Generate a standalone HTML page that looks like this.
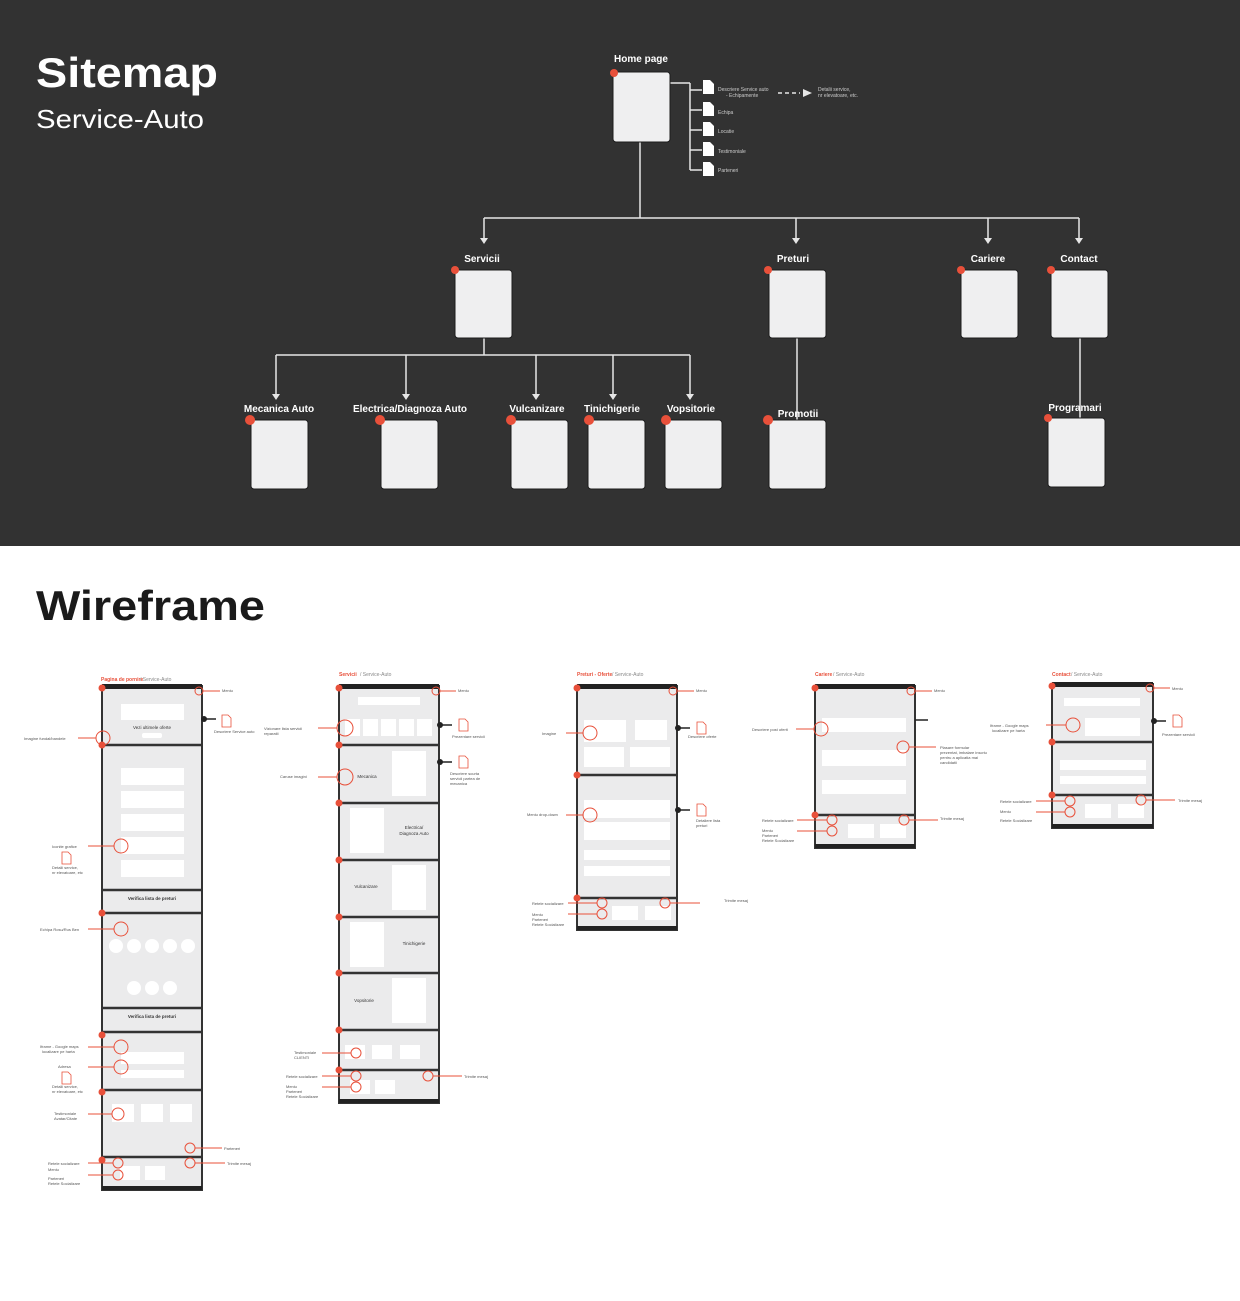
<!DOCTYPE html>
<html><head><meta charset="utf-8"><style>
html,body{margin:0;padding:0;background:#fff}
svg{display:block}
text{font-family:"Liberation Sans",sans-serif}
</style></head><body>
<svg width="1240" height="1301" viewBox="0 0 1240 1301" xmlns="http://www.w3.org/2000/svg">
<rect x="0" y="0" width="1240" height="546" fill="#323232"/>
<text x="36" y="87" font-size="42" font-weight="bold" fill="#fff" textLength="182" lengthAdjust="spacingAndGlyphs">Sitemap</text>
<text x="36" y="128" font-size="26" fill="#fff" textLength="168" lengthAdjust="spacingAndGlyphs">Service-Auto</text>

<g stroke="#e6e6e6" stroke-width="1.5" fill="none">
<path d="M640 142V218M484 218H1079M484 218V240M796 218V240M988 218V240M1079 218V240"/>
<path d="M484 338V355M276 355H690M276 355V396M406 355V396M536 355V396M613 355V396M690 355V396"/>
<path d="M797 338V420M1080 338V418"/>
<path d="M670 83H690M690 83V170M690 90H702M690 110H702M690 130H702M690 150H702M690 170H702"/>
<path d="M778 93H800" stroke-dasharray="4,3"/>
</g>
<g fill="#e6e6e6">
<path d="M480 238h8l-4 6z M792 238h8l-4 6z M984 238h8l-4 6z M1075 238h8l-4 6z"/>
<path d="M272 394h8l-4 6z M402 394h8l-4 6z M532 394h8l-4 6z M609 394h8l-4 6z M686 394h8l-4 6z"/>
<path d="M803 89l9 4-9 4z"/>
</g>
<g fill="#efeff0" stroke="#1c1c1c" stroke-width="1">
<rect x="613" y="72" width="57" height="70" rx="3"/>
<rect x="455" y="270" width="57" height="68" rx="3"/>
<rect x="769" y="270" width="57" height="68" rx="3"/>
<rect x="961" y="270" width="57" height="68" rx="3"/>
<rect x="1051" y="270" width="57" height="68" rx="3"/>
<rect x="251" y="420" width="57" height="69" rx="3"/>
<rect x="381" y="420" width="57" height="69" rx="3"/>
<rect x="511" y="420" width="57" height="69" rx="3"/>
<rect x="588" y="420" width="57" height="69" rx="3"/>
<rect x="665" y="420" width="57" height="69" rx="3"/>
<rect x="769" y="420" width="57" height="69" rx="3"/>
<rect x="1048" y="418" width="57" height="69" rx="3"/>
</g>
<g fill="#e8503a">
<circle cx="614" cy="73" r="4"/><circle cx="455" cy="270" r="4"/><circle cx="768" cy="270" r="4"/>
<circle cx="961" cy="270" r="4"/><circle cx="1051" cy="270" r="4"/>
<circle cx="250" cy="420" r="5"/><circle cx="380" cy="420" r="5"/><circle cx="511" cy="420" r="5"/>
<circle cx="589" cy="420" r="5"/><circle cx="666" cy="420" r="5"/><circle cx="768" cy="420" r="5"/><circle cx="1048" cy="418" r="4"/>
</g>
<g fill="#fff">
<path d="M703 80h7l4 4v10h-11z M703 102h7l4 4v10h-11z M703 122h7l4 4v10h-11z M703 142h7l4 4v10h-11z M703 162h7l4 4v10h-11z"/>
</g>
<g font-size="10" font-weight="bold" fill="#fff" text-anchor="middle">
<text x="641" y="62">Home page</text>
<text x="482" y="262">Servicii</text><text x="793" y="262">Preturi</text>
<text x="988" y="262">Cariere</text><text x="1079" y="262">Contact</text>
<text x="279" y="412">Mecanica Auto</text><text x="410" y="412">Electrica/Diagnoza Auto</text>
<text x="537" y="412">Vulcanizare</text><text x="612" y="412">Tinichigerie</text>
<text x="691" y="412">Vopsitorie</text><text x="798" y="417">Promotii</text><text x="1075" y="411">Programari</text>
</g>
<g font-size="5" fill="#ccc">
<text x="718" y="91">Descriere Service auto</text><text x="726" y="97">- Echipamente</text>
<text x="818" y="91">Detalii service,</text><text x="818" y="97">nr elevatoare, etc.</text>
<text x="718" y="114">Echipa</text><text x="718" y="133">Locatie</text><text x="718" y="153">Testimoniale</text><text x="718" y="172">Parteneri</text>
</g>

<text x="36" y="620" font-size="42" font-weight="bold" fill="#1a1a1a" textLength="229" lengthAdjust="spacingAndGlyphs">Wireframe</text>

<g fill="#ebebec" stroke="#333" stroke-width="2">
<rect x="102" y="686" width="100" height="504"/>
<rect x="339" y="686" width="100" height="417"/>
<rect x="577" y="686" width="100" height="244"/>
<rect x="815" y="686" width="100" height="162"/>
<rect x="1052" y="684" width="101" height="144"/>
</g>
<g fill="#222">
<rect x="102" y="684" width="100" height="5"/><rect x="339" y="684" width="100" height="5"/>
<rect x="577" y="684" width="100" height="5"/><rect x="815" y="684" width="100" height="5"/><rect x="1052" y="682" width="101" height="5"/>
<rect x="102" y="1186" width="100" height="4"/><rect x="339" y="1099" width="100" height="4"/>
<rect x="577" y="926" width="100" height="4"/><rect x="815" y="844" width="100" height="4"/><rect x="1052" y="824" width="101" height="4"/>
</g>
<g stroke="#333" stroke-width="2.5">
<path d="M102 745H202M102 890H202M102 913H202M102 1008H202M102 1032H202M102 1090H202M102 1157H202"/>
<path d="M339 745H439M339 803H439M339 860H439M339 917H439M339 973H439M339 1030H439M339 1070H439"/>
<path d="M577 775H677M577 898H677"/>
<path d="M815 815H915"/>
<path d="M1052 742H1153M1052 795H1153"/>
</g>
<g fill="#fff">
<rect x="121" y="704" width="63" height="16"/><rect x="142" y="733" width="20" height="5" rx="2"/>
<rect x="121" y="768" width="63" height="17"/><rect x="121" y="791" width="63" height="17"/><rect x="121" y="814" width="63" height="17"/><rect x="121" y="837" width="63" height="17"/><rect x="121" y="860" width="63" height="17"/>
<circle cx="116" cy="946" r="7"/><circle cx="134" cy="946" r="7"/><circle cx="152" cy="946" r="7"/><circle cx="170" cy="946" r="7"/><circle cx="188" cy="946" r="7"/>
<circle cx="134" cy="988" r="7"/><circle cx="152" cy="988" r="7"/><circle cx="170" cy="988" r="7"/>
<rect x="121" y="1052" width="63" height="12"/><rect x="121" y="1070" width="63" height="8"/>
<rect x="112" y="1104" width="22" height="18"/><rect x="141" y="1104" width="22" height="18"/><rect x="170" y="1104" width="22" height="18"/>
<rect x="120" y="1166" width="20" height="14"/><rect x="145" y="1166" width="20" height="14"/>
<rect x="358" y="697" width="62" height="8"/>
<rect x="345" y="719" width="15" height="17"/><rect x="363" y="719" width="15" height="17"/><rect x="381" y="719" width="15" height="17"/><rect x="399" y="719" width="15" height="17"/><rect x="417" y="719" width="15" height="17"/>
<rect x="392" y="751" width="34" height="45"/><rect x="350" y="808" width="34" height="45"/><rect x="392" y="865" width="34" height="45"/><rect x="350" y="922" width="34" height="45"/><rect x="392" y="978" width="34" height="45"/>
<rect x="345" y="1045" width="20" height="14"/><rect x="372" y="1045" width="20" height="14"/><rect x="400" y="1045" width="20" height="14"/>
<rect x="350" y="1080" width="20" height="14"/><rect x="375" y="1080" width="20" height="14"/>
<rect x="584" y="720" width="42" height="22"/><rect x="635" y="720" width="32" height="20"/><rect x="584" y="747" width="40" height="20"/><rect x="630" y="747" width="40" height="20"/>
<rect x="584" y="800" width="86" height="18"/><rect x="584" y="822" width="86" height="18"/><rect x="584" y="850" width="86" height="10"/><rect x="584" y="866" width="86" height="10"/>
<rect x="612" y="906" width="26" height="14"/><rect x="645" y="906" width="26" height="14"/>
<rect x="822" y="718" width="84" height="14"/><rect x="822" y="750" width="84" height="16"/><rect x="822" y="780" width="84" height="14"/>
<rect x="848" y="824" width="26" height="14"/><rect x="880" y="824" width="26" height="14"/>
<rect x="1064" y="698" width="76" height="8"/><rect x="1085" y="718" width="55" height="18"/><rect x="1060" y="760" width="86" height="10"/><rect x="1060" y="776" width="86" height="8"/>
<rect x="1085" y="804" width="26" height="14"/><rect x="1118" y="804" width="26" height="14"/>
</g>
<g font-size="4.5" fill="#333" text-anchor="middle">
<text x="152" y="729">Vezi ultimele oferte</text>
<text x="152" y="900" font-weight="bold">Verifica lista de preturi</text>
<text x="152" y="1018" font-weight="bold">Verifica lista de preturi</text>
<text x="367" y="778">Mecanica</text><text x="414" y="829">Electrica/</text><text x="414" y="835">Diagnoza Auto</text>
<text x="366" y="888">Vulcanizare</text><text x="414" y="945">Tinichigerie</text><text x="364" y="1002">Vopsitorie</text>
</g>
<g font-size="5">
<text x="101" y="681" fill="#e8503a" font-weight="bold">Pagina de pornire</text><text x="140" y="681" fill="#888">/ Service-Auto</text>
<text x="339" y="676" fill="#e8503a" font-weight="bold">Servicii</text><text x="360" y="676" fill="#888">/ Service-Auto</text>
<text x="577" y="676" fill="#e8503a" font-weight="bold">Preturi - Oferte</text><text x="612" y="676" fill="#888">/ Service-Auto</text>
<text x="815" y="676" fill="#e8503a" font-weight="bold">Cariere</text><text x="833" y="676" fill="#888">/ Service-Auto</text>
<text x="1052" y="676" fill="#e8503a" font-weight="bold">Contact</text><text x="1071" y="676" fill="#888">/ Service-Auto</text>
</g>
<g fill="#e8503a">
<circle cx="102" cy="688" r="3.5"/><circle cx="102" cy="745" r="3.5"/><circle cx="102" cy="913" r="3.5"/><circle cx="102" cy="1035" r="3.5"/><circle cx="102" cy="1092" r="3.5"/><circle cx="102" cy="1160" r="3.5"/>
<circle cx="339" cy="688" r="3.5"/><circle cx="339" cy="745" r="3.5"/><circle cx="339" cy="803" r="3.5"/><circle cx="339" cy="860" r="3.5"/><circle cx="339" cy="917" r="3.5"/><circle cx="339" cy="973" r="3.5"/><circle cx="339" cy="1030" r="3.5"/><circle cx="339" cy="1070" r="3.5"/>
<circle cx="577" cy="688" r="3.5"/><circle cx="577" cy="775" r="3.5"/><circle cx="577" cy="898" r="3.5"/>
<circle cx="815" cy="688" r="3.5"/><circle cx="815" cy="815" r="3.5"/>
<circle cx="1052" cy="686" r="3.5"/><circle cx="1052" cy="742" r="3.5"/><circle cx="1052" cy="795" r="3.5"/>
</g>
<g fill="none" stroke="#e8503a" stroke-width="1">
<circle cx="103" cy="738" r="7"/><path d="M96 738H78"/><circle cx="121" cy="846" r="7"/><path d="M114 846H88"/>
<circle cx="121" cy="929" r="7"/><path d="M114 929H88"/><circle cx="121" cy="1047" r="7"/><path d="M114 1047H88"/>
<circle cx="121" cy="1067" r="7"/><path d="M114 1067H88"/><circle cx="118" cy="1114" r="6"/><path d="M112 1114H88"/>
<circle cx="118" cy="1163" r="5"/><circle cx="118" cy="1175" r="5"/><path d="M88 1163H113M88 1175H113"/>
<circle cx="190" cy="1148" r="5"/><circle cx="190" cy="1163" r="5"/><path d="M195 1148H222M195 1163H225"/>
<circle cx="199" cy="691" r="4"/><path d="M203 691H220"/>
<circle cx="345" cy="728" r="8"/><path d="M337 728H318"/><circle cx="345" cy="777" r="8"/><path d="M337 777H318"/>
<circle cx="356" cy="1053" r="5"/><path d="M351 1053H322"/><circle cx="356" cy="1076" r="5"/><circle cx="356" cy="1087" r="5"/><path d="M322 1076H351M322 1087H351"/>
<circle cx="428" cy="1076" r="5"/><path d="M433 1076H462"/><circle cx="436" cy="691" r="4"/><path d="M440 691H456"/>
<circle cx="590" cy="733" r="7"/><path d="M583 733H566"/><circle cx="590" cy="815" r="7"/><path d="M583 815H566"/>
<circle cx="602" cy="903" r="5"/><circle cx="602" cy="914" r="5"/><path d="M568 903H597M568 914H597"/><circle cx="665" cy="903" r="5"/><path d="M670 903H700"/><circle cx="673" cy="691" r="4"/><path d="M677 691H694"/>
<circle cx="821" cy="729" r="7"/><path d="M814 729H796"/><circle cx="903" cy="747" r="6"/><path d="M909 747H936"/>
<circle cx="832" cy="820" r="5"/><circle cx="832" cy="831" r="5"/><path d="M797 820H827M797 831H827"/><circle cx="904" cy="820" r="5"/><path d="M909 820H938"/><circle cx="911" cy="691" r="4"/><path d="M915 691H932"/>
<circle cx="1073" cy="725" r="7"/><path d="M1066 725H1046"/><circle cx="1070" cy="801" r="5"/><circle cx="1070" cy="812" r="5"/><path d="M1036 801H1065M1036 812H1065"/>
<circle cx="1141" cy="800" r="5"/><path d="M1146 800H1175"/><circle cx="1150" cy="688" r="4"/><path d="M1154 688H1170"/>
</g>
<g stroke="#222" stroke-width="1.5"><path d="M203 719H216M439 725H452M439 762H452M677 728H690M677 810H690M915 720H928M1153 721H1166"/></g>
<g fill="#222"><circle cx="204" cy="719" r="3"/><circle cx="440" cy="725" r="3"/><circle cx="440" cy="762" r="3"/><circle cx="678" cy="728" r="3"/><circle cx="678" cy="810" r="3"/><circle cx="1154" cy="721" r="3"/></g>
<g fill="none" stroke="#e8503a" stroke-width="0.8">
<path d="M222 715h6l3 3v9h-9z M459 719h6l3 3v9h-9z M459 756h6l3 3v9h-9z M697 722h6l3 3v9h-9z M697 804h6l3 3v9h-9z M1173 715h6l3 3v9h-9z M62 852h6l3 3v9h-9z M62 1072h6l3 3v9h-9z"/>
</g>
<g font-size="4" fill="#555">
<text x="24" y="740">Imagine fundal/bandele</text><text x="222" y="692">Meniu</text><text x="214" y="733">Descriere Service auto</text>
<text x="52" y="848">Iconite grafice</text><text x="52" y="869">Detalii service,</text><text x="52" y="874">nr elevatoare, etc</text>
<text x="40" y="931">Echipa Rosu/Rus Ben</text><text x="40" y="1048">Iframe - Google maps</text><text x="42" y="1053">localizare pe harta</text>
<text x="58" y="1068">Adresa</text><text x="52" y="1088">Detalii service,</text><text x="52" y="1093">nr elevatoare, etc</text>
<text x="54" y="1115">Testimoniale</text><text x="54" y="1120">Avatar/Citate</text>
<text x="48" y="1165">Retele socializare</text><text x="48" y="1171">Meniu</text><text x="48" y="1180">Parteneri</text><text x="48" y="1185">Retele Socializare</text>
<text x="224" y="1150">Parteneri</text><text x="227" y="1165">Trimite mesaj</text>
<text x="264" y="730">Vizionare lista servicii</text><text x="264" y="735">reparatii</text><text x="280" y="778">Caruse imagini</text>
<text x="452" y="738">Prezentare servicii</text><text x="450" y="775">Descriere scurta</text><text x="450" y="780">servicii partea de</text><text x="450" y="785">mecanica</text>
<text x="294" y="1054">Testimoniale</text><text x="294" y="1059">CLIENTI</text><text x="286" y="1078">Retele socializare</text><text x="286" y="1088">Meniu</text><text x="286" y="1093">Parteneri</text><text x="286" y="1098">Retele Socializare</text>
<text x="464" y="1078">Trimite mesaj</text><text x="458" y="692">Meniu</text>
<text x="542" y="735">Imagine</text><text x="688" y="738">Descriere oferte</text><text x="527" y="816">Meniu drop-down</text>
<text x="696" y="822">Detaliere lista</text><text x="696" y="827">preturi</text>
<text x="532" y="905">Retele socializare</text><text x="532" y="916">Meniu</text><text x="532" y="921">Parteneri</text><text x="532" y="926">Retele Socializare</text>
<text x="724" y="902">Trimite mesaj</text><text x="696" y="692">Meniu</text>
<text x="752" y="731">Descriere post oferit</text><text x="940" y="749">Plasare formular</text><text x="940" y="754">prezentat, imbalare inscriu</text><text x="940" y="759">pentru a aplicatia mai</text><text x="940" y="764">candidatii</text>
<text x="762" y="822">Retele socializare</text><text x="762" y="832">Meniu</text><text x="762" y="837">Parteneri</text><text x="762" y="842">Retele Socializare</text>
<text x="940" y="820">Trimite mesaj</text><text x="934" y="692">Meniu</text>
<text x="990" y="727">Iframe - Google maps</text><text x="992" y="732">localizare pe harta</text><text x="1162" y="736">Prezentare servicii</text>
<text x="1000" y="803">Retele socializare</text><text x="1000" y="813">Meniu</text><text x="1000" y="822">Retele Socializare</text>
<text x="1178" y="802">Trimite mesaj</text><text x="1172" y="690">Meniu</text>
</g>
</svg>
</body></html>
